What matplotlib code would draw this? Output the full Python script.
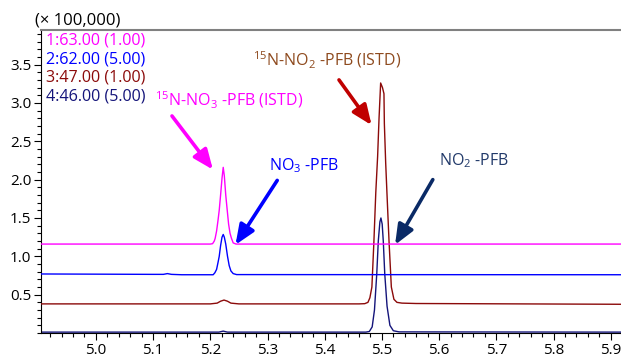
import matplotlib
matplotlib.use('Agg')
import matplotlib.pyplot as plt
from matplotlib.ticker import MultipleLocator

plt.rcParams['font.family'] = ['Open Sans', 'DejaVu Sans']
plt.rcParams['mathtext.fontset'] = 'custom'
plt.rcParams['mathtext.rm'] = 'Open Sans'
plt.rcParams['mathtext.default'] = 'regular'

# chromatogram traces (time in min, intensity x 100,000)
t_63 = [4.905, 5.200, 5.204, 5.207, 5.2085, 5.211, 5.2135, 5.2156, 5.218, 5.2205, 5.2226, 5.2245,
        5.227, 5.2296, 5.232, 5.2345, 5.237, 5.240, 5.245, 5.918]
y_63 = [1.16, 1.16, 1.165, 1.20, 1.235, 1.33, 1.47, 1.60, 1.80, 2.02, 2.16, 2.05,
        1.80, 1.60, 1.42, 1.30, 1.235, 1.175, 1.16, 1.16]

t_62 = [4.905, 5.10, 5.118, 5.125, 5.132, 5.15, 5.205, 5.208, 5.211, 5.2135, 5.2156, 5.218, 5.2205,
        5.2226, 5.2245, 5.227, 5.2301, 5.233, 5.236, 5.240, 5.246, 5.918]
y_62 = [0.77, 0.765, 0.765, 0.775, 0.765, 0.76, 0.76, 0.786, 0.83, 0.92, 1.0, 1.14, 1.25,
        1.285, 1.25, 1.16, 1.0, 0.88, 0.81, 0.775, 0.762, 0.76]

t_47 = [4.905, 5.20, 5.212, 5.218, 5.224, 5.230, 5.236, 5.25, 5.46, 5.470, 5.4756, 5.4790, 5.4825,
        5.4860, 5.4893, 5.4925, 5.4950, 5.4978, 5.5010, 5.5036, 5.5043, 5.5066, 5.5088, 5.5125,
        5.5165, 5.5210, 5.5263, 5.535, 5.56, 5.918]
y_47 = [0.38, 0.38, 0.39, 0.415, 0.43, 0.415, 0.39, 0.38, 0.38, 0.383, 0.40, 0.46, 0.60,
        1.19, 1.83, 2.30, 2.80, 3.26, 3.20, 3.12, 2.73, 2.22, 1.83, 1.19,
        0.60, 0.44, 0.40, 0.39, 0.385, 0.375]

t_46 = [4.905, 5.215, 5.2226, 5.230, 5.472, 5.478, 5.483, 5.487, 5.491, 5.4937, 5.4965, 5.4983,
        5.5005, 5.5024, 5.505, 5.509, 5.514, 5.520, 5.53, 5.918]
y_46 = [0.012, 0.012, 0.025, 0.012, 0.012, 0.02, 0.08, 0.30, 0.77, 1.20, 1.45, 1.50,
        1.42, 1.20, 0.77, 0.35, 0.10, 0.03, 0.015, 0.012]

legend_labels = ['1:63.00 (1.00)', '2:62.00 (5.00)', '3:47.00 (1.00)', '4:46.00 (5.00)']
c_63, c_62, c_47, c_46 = '#FF00FF', '#0000FF', '#8B0A0A', '#14147A'

fig = plt.figure(figsize=(6.21, 3.62), dpi=100)
ax = fig.add_axes([0.066, 0.080, 0.934, 0.837])

ax.plot(t_46, y_46, color=c_46, lw=1.0, zorder=2)
ax.plot(t_47, y_47, color=c_47, lw=1.0, zorder=3)
ax.plot(t_62, y_62, color=c_62, lw=1.0, zorder=4)
ax.plot(t_63, y_63, color=c_63, lw=1.0, zorder=5)

ax.set_xlim(4.904, 5.918)
ax.set_ylim(0, 3.95)
ax.xaxis.set_major_locator(MultipleLocator(0.1))
ax.xaxis.set_minor_locator(MultipleLocator(0.02))
ax.set_yticks([0.5, 1.0, 1.5, 2.0, 2.5, 3.0, 3.5])
ax.yaxis.set_minor_locator(MultipleLocator(0.1))
ax.tick_params(which='major', direction='out', length=5, width=0.8, labelsize=11, pad=2)
ax.tick_params(which='minor', direction='out', length=3, width=0.8)
ax.spines['right'].set_visible(False)
ax.spines['top'].set_color('#808080')
ax.spines['top'].set_linewidth(1.5)

ax.text(-0.01, 1.005, '(\u00d7 100,000)', transform=ax.transAxes, fontsize=12,
        ha='left', va='bottom')

for i, (lab, col) in enumerate(zip(legend_labels, [c_63, c_62, c_47, c_46])):
    ax.text(0.009, 0.965 - i * 0.0615, lab, transform=ax.transAxes, color=col,
            fontsize=11.6, ha='left', va='center')

def arrow(text, xy, xytext, tx, ty, tcol, acol):
    ax.annotate('', xy=xy, xytext=xytext,
                arrowprops=dict(arrowstyle='-|>,head_length=1.2,head_width=0.5',
                                color=acol, lw=2.6, shrinkA=0, shrinkB=0))
    ax.text(tx, ty, text, color=tcol, fontsize=11.5, ha='left', va='center')

arrow('$^{15}$N-NO$_3$ -PFB (ISTD)', (5.2046, 2.13), (5.133, 2.83), 5.103, 3.03, c_63, c_63)
arrow('NO$_3$ -PFB', (5.244, 1.15), (5.317, 1.99), 5.302, 2.18, c_62, c_62)
arrow('$^{15}$N-NO$_2$ -PFB (ISTD)', (5.482, 2.71), (5.425, 3.30), 5.274, 3.56, '#8E4A1E', '#C00000')
arrow('NO$_2$ -PFB', (5.523, 1.15), (5.589, 2.0), 5.599, 2.25, '#223A6A', '#0A2A66')

fig.savefig('out.png', dpi=100)
